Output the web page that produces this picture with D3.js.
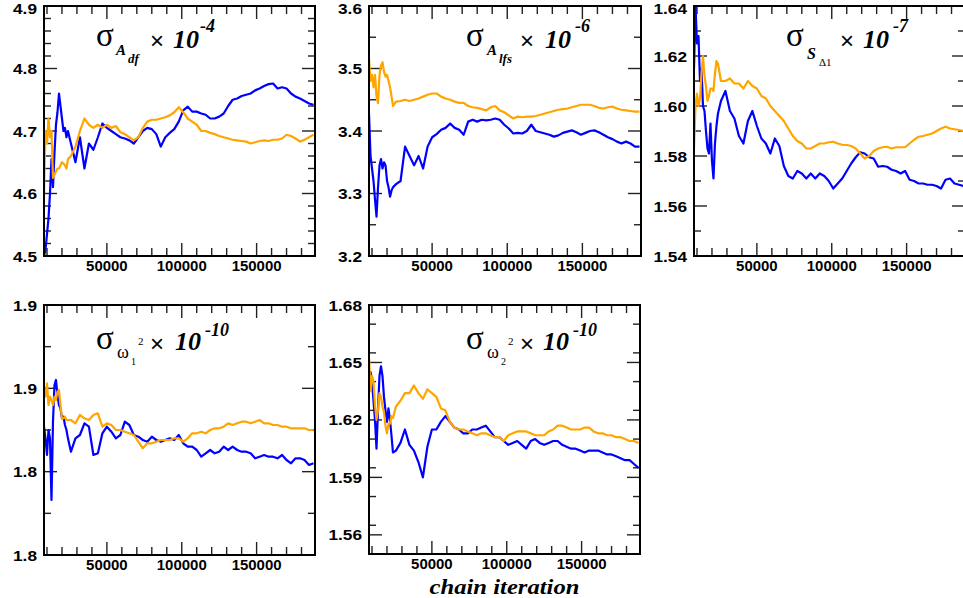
<!DOCTYPE html>
<html><head><meta charset="utf-8">
<script src="https://cdn.jsdelivr.net/npm/d3@7"></script>
<style>body{margin:0;background:#fff}svg{display:block}</style>
</head><body>
<svg id="c" width="963" height="598"></svg>
<script>
// chain iteration (x values shared by all panels)
const xIter = [8000,9000,10000,11000,12000,13000,14000,15000,16000,17000,18000,19000,20000,21000,22000,23000,24000,
 26000,29000,32000,35000,38000,41000,44000,47000,50000,53000,
 56000,59000,62000,65000,68000,71000,74000,77000,80000,83000,
 86000,89000,92000,95000,98000,101000,104000,107000,110000,113000,
 116000,119000,122000,125000,128000,131000,134000,137000,140000,143000,
 146000,149000,152000,155000,158000,161000,164000,167000,170000,173000,
 176000,179000,182000,185000,188000];

const p1Blue = [4.50,4.51,4.535,4.56,4.60,4.655,4.61,4.665,4.71,4.73,4.76,4.74,4.72,4.70,4.705,4.69,4.70,
 4.68,4.65,4.69,4.64,4.68,4.67,4.69,4.712,4.705,4.70,
 4.695,4.69,4.688,4.685,4.68,4.69,4.70,4.705,4.703,4.695,
 4.675,4.69,4.697,4.703,4.715,4.733,4.739,4.731,4.731,4.728,
 4.726,4.72,4.72,4.723,4.728,4.74,4.75,4.752,4.756,4.758,
 4.76,4.765,4.768,4.772,4.775,4.776,4.768,4.77,4.768,4.76,
 4.755,4.752,4.748,4.744,4.742];
const p1Orange = [4.60,4.70,4.68,4.72,4.69,4.70,4.625,4.63,4.635,4.64,4.64,4.645,4.65,4.648,4.645,4.64,4.655,
 4.66,4.675,4.70,4.72,4.71,4.705,4.71,4.705,4.71,4.705,
 4.708,4.698,4.695,4.69,4.685,4.69,4.705,4.715,4.718,4.718,
 4.72,4.722,4.725,4.73,4.738,4.73,4.72,4.715,4.71,4.70,
 4.70,4.697,4.695,4.692,4.69,4.688,4.686,4.685,4.684,4.683,
 4.68,4.682,4.684,4.685,4.684,4.686,4.686,4.688,4.694,4.692,
 4.688,4.683,4.686,4.69,4.694];

const p2Blue = [3.428,3.36,3.34,3.32,3.29,3.263,3.31,3.345,3.355,3.34,3.35,3.345,3.32,3.31,3.295,3.305,3.31,
 3.315,3.32,3.375,3.36,3.345,3.36,3.34,3.375,3.39,3.395,
 3.402,3.405,3.412,3.405,3.402,3.394,3.415,3.418,3.415,3.418,
 3.417,3.418,3.42,3.418,3.41,3.404,3.396,3.397,3.396,3.40,
 3.41,3.40,3.398,3.396,3.394,3.391,3.393,3.397,3.399,3.401,
 3.398,3.394,3.397,3.40,3.401,3.398,3.394,3.39,3.387,3.383,
 3.38,3.383,3.38,3.375,3.375];
const p2Orange = [3.515,3.48,3.49,3.47,3.49,3.455,3.445,3.49,3.505,3.51,3.495,3.487,3.49,3.48,3.47,3.455,3.44,
 3.447,3.448,3.45,3.448,3.45,3.452,3.455,3.458,3.46,3.46,
 3.455,3.452,3.45,3.447,3.445,3.445,3.44,3.438,3.437,3.435,
 3.433,3.438,3.44,3.433,3.43,3.425,3.42,3.423,3.422,3.423,
 3.423,3.424,3.426,3.428,3.43,3.432,3.434,3.435,3.436,3.438,
 3.44,3.442,3.442,3.442,3.44,3.437,3.436,3.438,3.439,3.436,
 3.434,3.433,3.432,3.431,3.431];

const p3Blue = [1.615,1.64,1.625,1.628,1.61,1.615,1.60,1.598,1.59,1.583,1.581,1.593,1.578,1.571,1.585,1.592,1.597,
 1.602,1.606,1.598,1.595,1.588,1.585,1.594,1.598,1.592,1.587,
 1.585,1.581,1.587,1.584,1.576,1.572,1.571,1.574,1.573,1.571,
 1.573,1.571,1.573,1.572,1.570,1.567,1.569,1.571,1.574,1.577,
 1.5795,1.5815,1.581,1.5795,1.579,1.5757,1.576,1.5757,1.5745,1.574,
 1.573,1.574,1.5705,1.570,1.569,1.569,1.5685,1.5685,1.568,1.567,
 1.5705,1.571,1.569,1.5685,1.568];
const p3Orange = [1.583,1.60,1.605,1.60,1.603,1.613,1.62,1.612,1.608,1.602,1.604,1.607,1.607,1.606,1.613,1.618,1.617,
 1.61,1.61,1.611,1.609,1.609,1.607,1.61,1.608,1.607,1.604,
 1.603,1.600,1.598,1.596,1.594,1.591,1.588,1.586,1.585,1.583,
 1.583,1.584,1.585,1.585,1.5855,1.5857,1.585,1.5845,1.5844,1.584,
 1.583,1.581,1.579,1.580,1.582,1.583,1.5835,1.5837,1.583,1.5835,
 1.5835,1.5835,1.585,1.5865,1.5877,1.588,1.5885,1.589,1.590,1.591,
 1.5917,1.591,1.5907,1.5904,1.590];

const p4Blue = [1.827,1.82,1.81,1.825,1.82,1.783,1.83,1.852,1.855,1.846,1.84,1.838,1.832,1.833,1.828,1.825,1.82,
 1.812,1.82,1.822,1.829,1.827,1.81,1.811,1.823,1.827,1.824,
 1.82,1.822,1.83,1.828,1.822,1.821,1.819,1.818,1.821,1.819,
 1.818,1.819,1.82,1.819,1.822,1.817,1.815,1.815,1.813,1.809,
 1.811,1.813,1.811,1.812,1.815,1.813,1.815,1.813,1.812,1.812,
 1.811,1.808,1.809,1.810,1.809,1.809,1.808,1.81,1.807,1.805,
 1.808,1.808,1.807,1.804,1.805];
const p4Orange = [1.849,1.845,1.853,1.84,1.845,1.843,1.84,1.845,1.843,1.848,1.849,1.84,1.832,1.832,1.833,1.831,1.831,
 1.831,1.829,1.834,1.832,1.831,1.834,1.835,1.827,1.829,1.828,
 1.825,1.825,1.824,1.823,1.822,1.818,1.814,1.817,1.817,1.818,
 1.819,1.819,1.819,1.82,1.82,1.818,1.82,1.823,1.823,1.824,
 1.823,1.825,1.826,1.826,1.827,1.829,1.828,1.829,1.830,1.830,
 1.829,1.830,1.831,1.829,1.829,1.828,1.828,1.827,1.827,1.826,
 1.826,1.826,1.826,1.825,1.825];

const p5Blue = [1.636,1.645,1.64,1.63,1.62,1.605,1.625,1.643,1.648,1.643,1.632,1.625,1.619,1.626,1.62,1.612,1.603,
 1.604,1.608,1.615,1.607,1.604,1.598,1.59,1.606,1.615,1.615,
 1.619,1.622,1.619,1.616,1.615,1.613,1.613,1.615,1.615,1.616,
 1.617,1.614,1.611,1.611,1.609,1.607,1.608,1.609,1.607,1.605,
 1.609,1.610,1.608,1.607,1.608,1.609,1.609,1.607,1.606,1.605,
 1.605,1.604,1.603,1.604,1.604,1.604,1.603,1.602,1.602,1.601,
 1.600,1.599,1.599,1.597,1.595];
const p5Orange = [1.653,1.635,1.643,1.64,1.628,1.62,1.625,1.634,1.632,1.627,1.624,1.617,1.613,1.618,1.618,1.622,1.621,
 1.627,1.630,1.634,1.634,1.638,1.634,1.631,1.636,1.634,1.632,
 1.626,1.625,1.619,1.616,1.615,1.615,1.614,1.613,1.612,1.613,
 1.613,1.612,1.611,1.611,1.609,1.612,1.613,1.614,1.614,1.614,
 1.613,1.612,1.612,1.612,1.614,1.615,1.617,1.617,1.616,1.615,
 1.615,1.615,1.616,1.616,1.614,1.613,1.613,1.612,1.612,1.611,
 1.611,1.610,1.609,1.609,1.608];

// axis ticks and labels
const xDomain = [8000, 189000];
const xMajorTicks = [50000, 100000, 150000];
const xTickLabels = ["50000", "100000", "150000"];
const p1YTicks = [4.5, 4.6, 4.7, 4.8, 4.9];
const p1YLabels = ["4.5", "4.6", "4.7", "4.8", "4.9"];
const p2YTicks = [3.2, 3.3, 3.4, 3.5, 3.6];
const p2YLabels = ["3.2", "3.3", "3.4", "3.5", "3.6"];
const p3YTicks = [1.54, 1.56, 1.58, 1.60, 1.62, 1.64];
const p3YLabels = ["1.54", "1.56", "1.58", "1.60", "1.62", "1.64"];
const p4YTicks = [1.75, 1.80, 1.85, 1.90];
const p4YLabels = ["1.8", "1.8", "1.9", "1.9"];
const p5YTicks = [1.56, 1.59, 1.62, 1.65, 1.68];
const p5YLabels = ["1.56", "1.59", "1.62", "1.65", "1.68"];
const xAxisTitle = "chain iteration";

const BLUE = "#0000ff", ORANGE = "#ffa500";
const SERIF = "'Liberation Serif','Times New Roman',serif";
const SANS = "'Liberation Sans',Arial,Helvetica,sans-serif";

// title pieces [text, dx, dy, size, family, weight, style]
const titles = [
 [["σ",52,40,33,SERIF,"normal","normal"],["A",72,49,15,SERIF,"bold","italic"],["df",84,57,13,SERIF,"bold","italic"],
  ["×",106,43,24,SANS,"normal","normal"],["10",129,42,26,SERIF,"bold","italic"],["-4",156,26,18,SERIF,"bold","italic"]],
 [["σ",97,40,33,SERIF,"normal","normal"],["A",118,49,15,SERIF,"bold","italic"],["lfs",130,57,13,SERIF,"bold","italic"],
  ["×",151,43,24,SANS,"normal","normal"],["10",176,42,26,SERIF,"bold","italic"],["-6",206,26,18,SERIF,"bold","italic"]],
 [["σ",92,40,33,SERIF,"normal","normal"],["S",113,53,16,SERIF,"bold","italic"],["Δ1",125,60,11,SERIF,"normal","normal"],
  ["×",146,43,24,SANS,"normal","normal"],["10",169,42,26,SERIF,"bold","italic"],["-7",199,26,18,SERIF,"bold","italic"]],
 [["σ",52,44,33,SERIF,"normal","normal"],["ω",73,53,18,SERIF,"normal","normal"],["1",87,60,10,SERIF,"normal","normal"],
  ["2",94,40,11,SERIF,"normal","normal"],["×",106,47,24,SANS,"normal","normal"],["10",131,45,26,SERIF,"bold","italic"],["-10",161,31,18,SERIF,"bold","italic"]],
 [["σ",97,44,33,SERIF,"normal","normal"],["ω",118,53,18,SERIF,"normal","normal"],["2",132,60,10,SERIF,"normal","normal"],
  ["2",139,40,11,SERIF,"normal","normal"],["×",151,47,24,SANS,"normal","normal"],["10",174,45,26,SERIF,"bold","italic"],["-10",204,31,18,SERIF,"bold","italic"]]
];

const panels = [
 {left:44, top:6, w:271, h:250, dom:[4.5,4.9], ticks:p1YTicks, labels:p1YLabels, minor:0.02, blue:p1Blue, orange:p1Orange},
 {left:369, top:6, w:272, h:250, dom:[3.2,3.6], ticks:p2YTicks, labels:p2YLabels, minor:0.05, blue:p2Blue, orange:p2Orange},
 {left:694, top:6, w:271, h:250, dom:[1.54,1.64], ticks:p3YTicks, labels:p3YLabels, minor:0.01, blue:p3Blue, orange:p3Orange},
 {left:44, top:305, w:271, h:250, dom:[1.75,1.90], ticks:p4YTicks, labels:p4YLabels, minor:0.025, blue:p4Blue, orange:p4Orange},
 {left:369, top:305, w:271, h:249, dom:[1.55,1.68], ticks:p5YTicks, labels:p5YLabels, minor:0.015, blue:p5Blue, orange:p5Orange}
];

const svg = d3.select("#c");
const defs = svg.append("defs");

function txt(g, x, y, s, o) {
  return g.append("text")
    .attr("transform", `translate(${x},${y}) scale(${o.sx || 1},1)`)
    .attr("font-family", o.ff).attr("font-size", o.fs)
    .attr("font-weight", o.fw || "normal").attr("font-style", o.st || "normal")
    .attr("text-anchor", o.ta || "start").attr("fill", "#000")
    .text(s);
}

panels.forEach((p, i) => {
  const g = svg.append("g");
  const x = d3.scaleLinear().domain(xDomain).range([p.left, p.left + p.w]);
  const y = d3.scaleLinear().domain(p.dom).range([p.top + p.h, p.top]);
  const right = p.left + p.w, bottom = p.top + p.h;

  defs.append("clipPath").attr("id", "clip" + i).append("rect")
    .attr("x", p.left).attr("y", p.top).attr("width", p.w).attr("height", p.h);

  // ticks
  const tk = g.append("g").attr("stroke", "#222").attr("stroke-width", 1.4);
  const eps = 1e-9;
  const majorY = p.ticks;
  const minorY = d3.range(p.dom[0], p.dom[1] + eps, p.minor)
    .filter(v => !majorY.some(m => Math.abs(m - v) < p.minor / 10));
  majorY.forEach(v => {
    tk.append("line").attr("x1", p.left).attr("x2", p.left + 13).attr("y1", y(v)).attr("y2", y(v));
    tk.append("line").attr("x1", right).attr("x2", right - 13).attr("y1", y(v)).attr("y2", y(v));
  });
  minorY.forEach(v => {
    tk.append("line").attr("x1", p.left).attr("x2", p.left + 7).attr("y1", y(v)).attr("y2", y(v));
    tk.append("line").attr("x1", right).attr("x2", right - 7).attr("y1", y(v)).attr("y2", y(v));
  });
  const minorX = d3.range(10000, 189000, 10000).filter(v => !xMajorTicks.includes(v));
  xMajorTicks.forEach(v => {
    tk.append("line").attr("x1", x(v)).attr("x2", x(v)).attr("y1", bottom).attr("y2", bottom - 13);
    tk.append("line").attr("x1", x(v)).attr("x2", x(v)).attr("y1", p.top).attr("y2", p.top + 13);
  });
  minorX.forEach(v => {
    tk.append("line").attr("x1", x(v)).attr("x2", x(v)).attr("y1", bottom).attr("y2", bottom - 8);
    tk.append("line").attr("x1", x(v)).attr("x2", x(v)).attr("y1", p.top).attr("y2", p.top + 8);
  });

  // series
  const line = d3.line().x((d, j) => x(xIter[j])).y(d => y(d));
  const lg = g.append("g").attr("clip-path", `url(#clip${i})`).attr("fill", "none")
    .attr("stroke-linejoin", "round");
  lg.append("path").datum(p.blue).attr("d", line).attr("stroke", BLUE).attr("stroke-width", 2.2);
  lg.append("path").datum(p.orange).attr("d", line).attr("stroke", ORANGE).attr("stroke-width", 2.2);

  // frame
  g.append("rect").attr("x", p.left).attr("y", p.top).attr("width", p.w).attr("height", p.h)
    .attr("fill", "none").attr("stroke", "#000").attr("stroke-width", 2);

  // tick labels (kept inside the page at the top edge)
  majorY.forEach((v, j) => {
    txt(g, p.left - 7, Math.max(y(v) + 5.5, 14), p.labels[j], {ff: SANS, fs: 15, fw: "bold", ta: "end", sx: 1.15});
  });
  xMajorTicks.forEach((v, j) => {
    txt(g, x(v), bottom + 15, xTickLabels[j], {ff: SANS, fs: 14, fw: "bold", ta: "middle", sx: 1.07});
  });

  // title
  titles[i].forEach(t => {
    txt(g, p.left + t[1], p.top + t[2], t[0], {fs: t[3], ff: t[4], fw: t[5], st: t[6]});
  });
});

// x-axis title under the fifth panel
const p5 = panels[4];
txt(svg, p5.left + p5.w / 2, 594, xAxisTitle, {ff: SERIF, fs: 22, fw: "bold", st: "italic", ta: "middle", sx: 1.12});
</script>
</body></html>
